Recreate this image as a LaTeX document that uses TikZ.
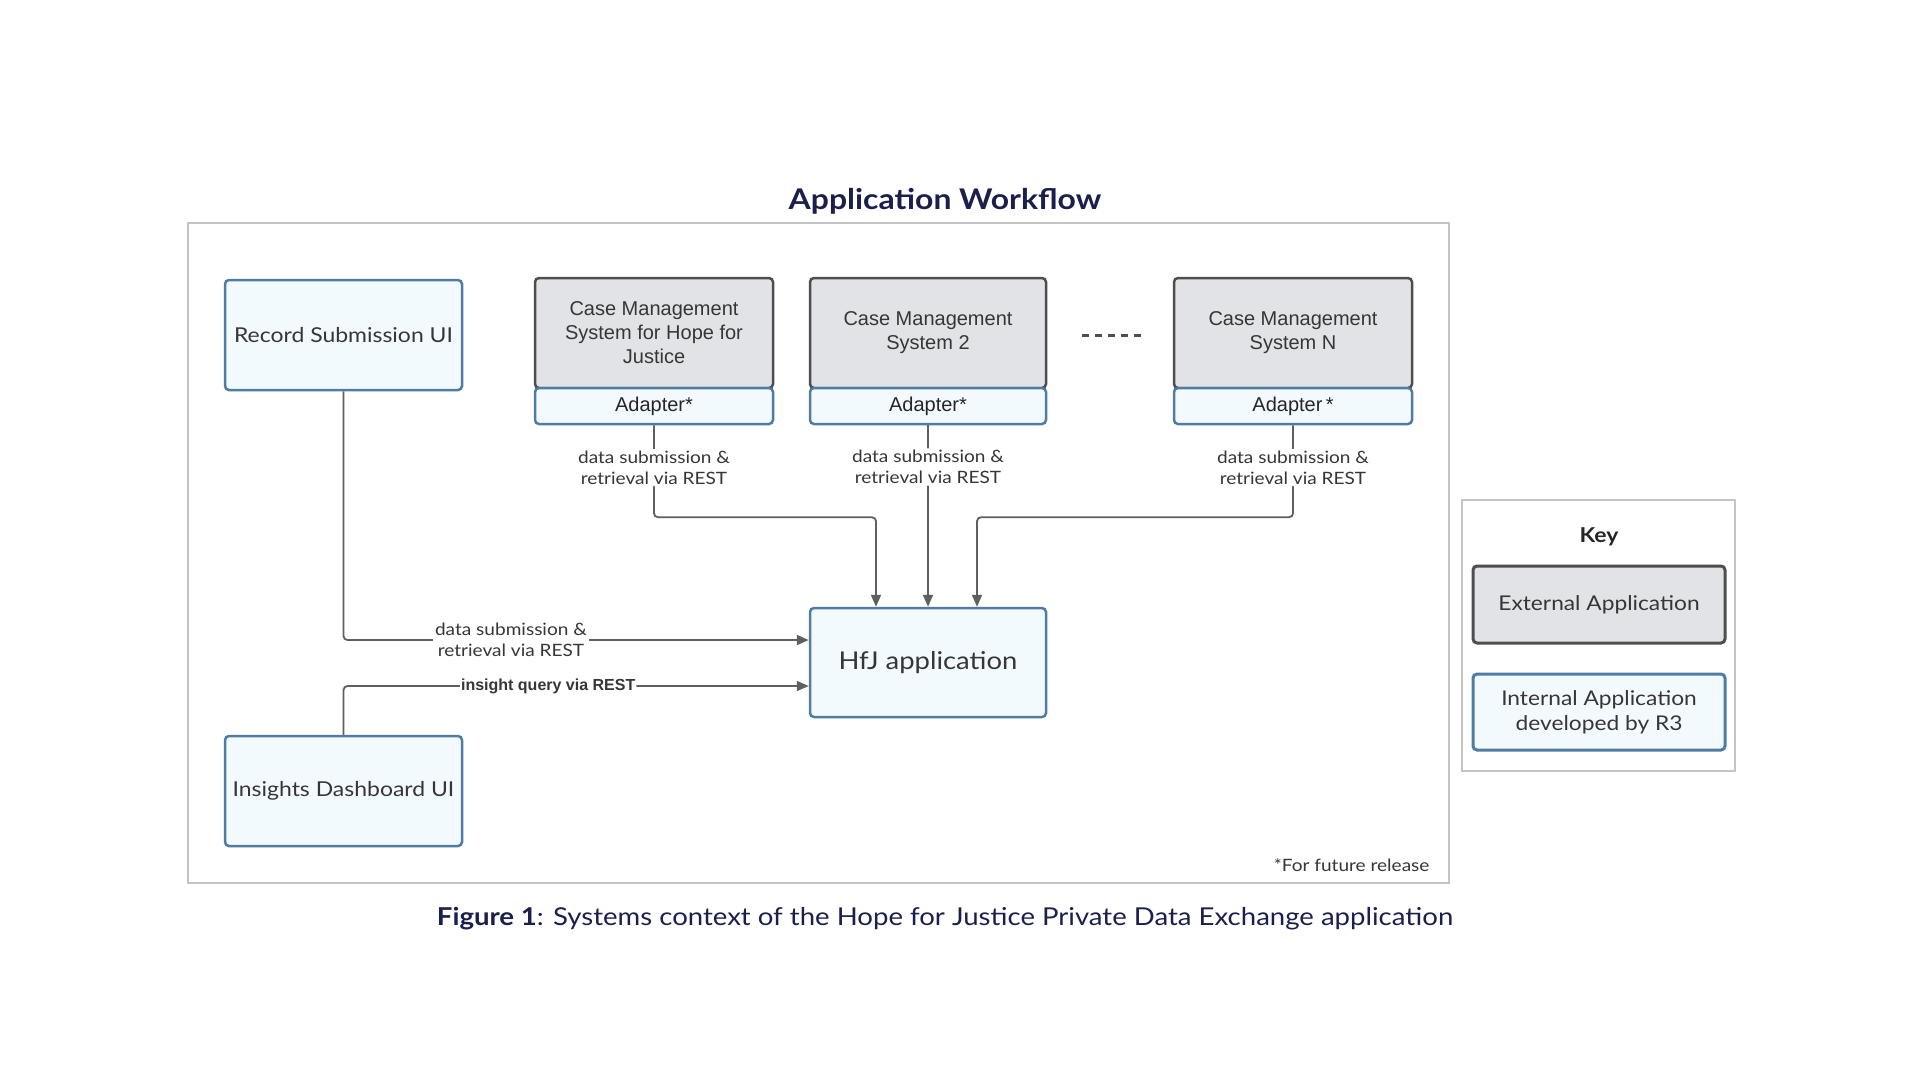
\documentclass[tikz,border=0pt]{standalone}
\usepackage{fontspec}
\setmainfont{Lato}[FakeStretch=1.12]
\newfontfamily\arialf{Liberation Sans}
\usetikzlibrary{arrows.meta,calc}
\definecolor{navy}{HTML}{1B1F4B}
\definecolor{bborder}{HTML}{4F7CA3}
\definecolor{bfill}{HTML}{F3FAFE}
\definecolor{gfill}{HTML}{E1E3E7}
\definecolor{gborder}{HTML}{4E4E4E}
\definecolor{linec}{HTML}{5F5F5F}
\definecolor{framec}{HTML}{C4C4C4}
\definecolor{txt}{HTML}{363636}
\tikzset{
  intbox/.style={draw=bborder, fill=bfill, line width=2.5pt, rounded corners=4pt,
     minimum width=237pt, minimum height=110pt, text=txt, align=center, inner sep=0pt},
  extbox/.style={draw=gborder, fill=gfill, line width=2.5pt, rounded corners=4pt,
     minimum width=238pt, minimum height=110pt, text=txt, align=center, inner sep=0pt,
     font=\arialf\fontsize{20}{24}\selectfont},
  adbox/.style={draw=bborder, fill=bfill, line width=2.5pt, rounded corners=4pt,
     minimum width=238pt, minimum height=36pt, text=black!85, inner sep=0pt,
     font=\arialf\fontsize{20}{24}\selectfont},
  conn/.style={draw=linec, line width=1.8pt, rounded corners=4pt,
     -{Triangle[length=12pt,width=10pt]}},
  lbl/.style={fill=white, text=txt, align=center, inner sep=2pt,
     font=\fontsize{17}{20.5}\selectfont},
  framebox/.style={draw=framec, line width=2pt, fill=none},
}
\begin{document}
\begin{tikzpicture}[x=1pt,y=-1pt]
\useasboundingbox (0,0) rectangle (1920,1080);
\fill[white] (0,0) rectangle (1920,1080);

% title
\node[text=navy, font=\bfseries\fontsize{28.5}{34}\selectfont] (title) at (945,201) {Application Workflow};

% main frame
\node[framebox, minimum width=1261pt, minimum height=660pt, inner sep=0pt] (frame) at (818.5,553) {};

% nodes
\node[intbox, font=\fontsize{20.5}{25}\selectfont] (rec) at (343.5,335) {Record Submission UI};
\node[intbox, font=\fontsize{20.5}{25}\selectfont] (ins) at (343.5,791) {Insights Dashboard UI};

\node[extbox] (cms1) at (654,333) {Case Management\\System for Hope for\\Justice};
\node[adbox] (ad1) at (654,406) {Adapter*};
\node[extbox, minimum width=236pt] (cms2) at (928,333) {Case Management\\System 2};
\node[adbox, minimum width=236pt] (ad2) at (928,406) {Adapter*};
\node[extbox] (cmsN) at (1293,333) {Case Management\\System N};
\node[adbox] (adN) at (1293,406) {Adapter\,*};

\node[intbox, minimum width=236pt, minimum height=109pt, font=\fontsize{24.5}{30}\selectfont] (hfj) at (928,662.5) {HfJ application};

% dashes between systems
\coordinate (d1) at (1082,335);
\coordinate (d2) at (1146,335);
\draw[draw=gborder, line width=3pt, dash pattern=on 7pt off 6pt] (d1) -- (d2);

% connectors
\draw[conn] (ad1.south) -- node[lbl, pos=0.46] {data submission \&\\retrieval via REST} ++(0,92) -| ([xshift=-52pt]hfj.north);
\draw[conn] (ad2.south) -- node[lbl, pos=0.23] {data submission \&\\retrieval via REST} (hfj.north);
\draw[conn] (adN.south) -- node[lbl, pos=0.46] {data submission \&\\retrieval via REST} ++(0,92) -| ([xshift=49pt]hfj.north);

\draw[conn] (rec.south) |- node[lbl, pos=0.68] {data submission \&\\retrieval via REST} ([yshift=22.5pt]hfj.west);
\draw[conn] (ins.north) |- node[fill=white, text=txt, inner sep=1pt, pos=0.72, font=\arialf\bfseries\fontsize{16}{18}\selectfont] {insight query via REST} ([yshift=-23.5pt]hfj.west);

% footnote
\node[anchor=east, text=txt, font=\fontsize{17}{20}\selectfont] (foot) at (1433,865) {*For future release};

% key
\node[framebox, minimum width=273pt, minimum height=271pt, inner sep=0pt] (key) at (1598.5,635.5) {};
\node[text=black!85, font=\bfseries\fontsize{20.5}{25}\selectfont] (keyt) at (1599,537) {Key};
\node[extbox, font=\fontsize{20.3}{24}\selectfont, line width=3pt, minimum width=252pt, minimum height=77pt] (ext) at (1599,604.5) {External Application};
\node[intbox, font=\fontsize{20.3}{25}\selectfont, line width=3pt, minimum width=252pt, minimum height=76pt] (int) at (1599,712) {Internal Application\\developed by R3};

% caption
\node[text=navy, font=\fontsize{24.6}{28}\selectfont] (cap) at (945,919) {\textbf{Figure 1}: Systems context of the Hope for Justice Private Data Exchange application};
\end{tikzpicture}
\end{document}
